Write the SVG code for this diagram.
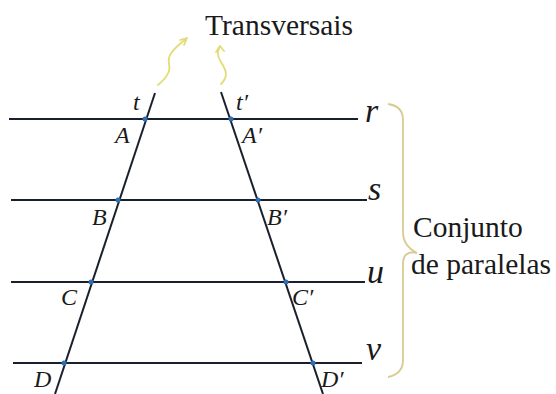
<svg xmlns="http://www.w3.org/2000/svg" width="556" height="394" viewBox="0 0 556 394">
<defs>
<style>
.ln{stroke:#1a1f2e;stroke-width:2;fill:none}
.dot{fill:#2d6fb5}
.lbl{font-family:"Liberation Serif","Times New Roman",serif;font-style:italic;font-size:24px;fill:#1a1a1a}
.big{font-family:"Liberation Serif","Times New Roman",serif;font-style:italic;font-size:34px;fill:#1a1a1a}
.txt{font-family:"Liberation Serif","Times New Roman",serif;font-size:29.5px;fill:#1a1a1a}
.sq{stroke:#e2dc74;stroke-width:1.8;fill:none;stroke-linecap:round;stroke-linejoin:round}
.br{stroke:#d6cb90;stroke-width:1.8;fill:none}
</style>
</defs>
<g id="connectors">
<line id="line-r" class="ln" x1="9" y1="119" x2="358" y2="119"/>
<line id="line-s" class="ln" x1="11" y1="200" x2="367" y2="200"/>
<line id="line-u" class="ln" x1="11" y1="282" x2="365" y2="282"/>
<line id="line-v" class="ln" x1="13" y1="363" x2="362" y2="363"/>
<line id="line-t" class="ln" x1="155" y1="93" x2="55" y2="394"/>
<line id="line-t2" class="ln" x1="221" y1="92" x2="323" y2="394"/>
<path id="sq-left" class="sq" d="M158,85 C166,78 171,72 169,64 C167,56 172,50 187,38 M187,38 L180,40 M187,38 L184,45"/>
<path id="sq-right" class="sq" d="M221,84 C229,76 226,70 221,62 C217,56 217,52 220,46 M220,46 L216,52 M220,46 L224,51"/>
<path id="brace" class="br" d="M388,104 Q403,106 403,120 L403,232 Q403,246 417,253 M417,253 Q403,250 403,264 L403,360 Q403,374 388,377"/>
</g>
<g id="dots">
<circle class="dot" cx="145" cy="119" r="2.5"/>
<circle class="dot" cx="231" cy="119" r="2.5"/>
<circle class="dot" cx="118" cy="200" r="2.5"/>
<circle class="dot" cx="258" cy="200" r="2.5"/>
<circle class="dot" cx="91" cy="282" r="2.5"/>
<circle class="dot" cx="286" cy="282" r="2.5"/>
<circle class="dot" cx="64" cy="363" r="2.5"/>
<circle class="dot" cx="313" cy="363" r="2.5"/>
</g>
<g id="node-t"><text class="lbl" x="133" y="110">t</text></g>
<g id="node-t2"><text class="lbl" x="236" y="110">t′</text></g>
<g id="node-r"><text class="big" x="365" y="122">r</text></g>
<g id="node-s"><text class="big" x="368" y="200">s</text></g>
<g id="node-u"><text class="big" x="367" y="283">u</text></g>
<g id="node-v"><text class="big" x="366" y="360">v</text></g>
<g id="node-A"><text class="lbl" x="115" y="143">A</text></g>
<g id="node-A2"><text class="lbl" x="242" y="143">A′</text></g>
<g id="node-B"><text class="lbl" x="92" y="225">B</text></g>
<g id="node-B2"><text class="lbl" x="267" y="225">B′</text></g>
<g id="node-C"><text class="lbl" x="61" y="305">C</text></g>
<g id="node-C2"><text class="lbl" x="292" y="305">C′</text></g>
<g id="node-D"><text class="lbl" x="34" y="387">D</text></g>
<g id="node-D2"><text class="lbl" x="321" y="387">D′</text></g>
<g id="node-transversais"><text class="txt" x="205" y="35">Transversais</text></g>
<g id="node-conjunto"><text class="txt" x="413" y="237">Conjunto</text><text class="txt" x="411" y="274">de paralelas</text></g>
</svg>
